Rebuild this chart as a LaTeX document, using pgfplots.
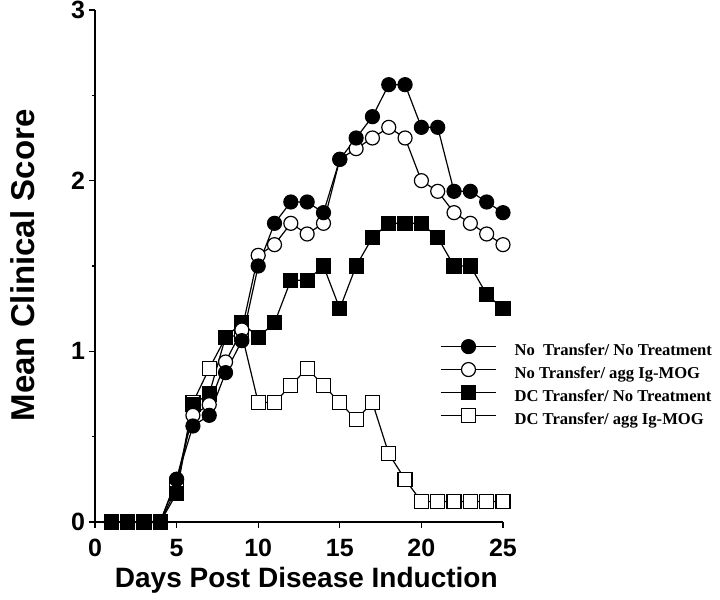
\documentclass[border=0pt]{standalone}
\usepackage{fontspec}
\setmainfont{Liberation Serif}
\newfontfamily\sansfont{Liberation Sans}
\usepackage{pgfplots}
\usepackage{pgfplotstable}
\pgfplotsset{compat=1.18}

\pgfplotstableread{
day ntnt ntagg dcnt dcagg
1 0 0 0 0
2 0 0 0 0
3 0 0 0 0
4 0 0 0 0
5 0.25 0.25 0.167 0.2
6 0.5625 0.625 0.69 0.7
7 0.625 0.6875 0.75 0.9
8 0.875 0.9375 1.083 1.08
9 1.0625 1.125 1.167 1.1
10 1.5 1.5625 1.083 0.7
11 1.75 1.625 1.167 0.7
12 1.875 1.75 1.417 0.8
13 1.875 1.6875 1.417 0.9
14 1.8125 1.75 1.5 0.8
15 2.125 2.125 1.25 0.7
16 2.25 2.1875 1.5 0.6
17 2.375 2.25 1.667 0.7
18 2.5625 2.3125 1.75 0.4
19 2.5625 2.25 1.75 0.25
20 2.3125 2.0 1.75 0.12
21 2.3125 1.9375 1.667 0.12
22 1.9375 1.8125 1.5 0.12
23 1.9375 1.75 1.5 0.12
24 1.875 1.6875 1.333 0.12
25 1.8125 1.625 1.25 0.12
}\datatable

\begin{document}
\begin{tikzpicture}
\useasboundingbox (-47.5pt,-39pt) rectangle (312.5pt,261pt);
\begin{axis}[
  at={(0pt,0pt)}, anchor=origin,
  scale only axis, width=204pt, height=256pt,
  xmin=0, xmax=25, ymin=0, ymax=3,
  axis x line*=bottom, axis y line*=left,
  axis line style={line width=0.9pt, -},
  xtick={0,5,10,15,20,25}, ytick={0,1,2,3}, minor ytick={0.5,1.5,2.5},
  tick align=outside, major tick length=3pt, minor tick length=1.5pt,
  tick style={black, line width=0.6pt},
  clip=false,
  /pgf/number format/assume math mode=true,
  ticklabel style={font=\sansfont\bfseries\fontsize{12.5}{14}\selectfont},
  xticklabel style={anchor=base, yshift=-14.5pt},
  yticklabel style={anchor=east, xshift=1.5pt},
  xlabel={Days Post Disease Induction},
  ylabel={Mean Clinical Score},
  xlabel style={at={(axis description cs:0.518,-0.128)}, anchor=base,
    font=\sansfont\bfseries\fontsize{14}{16}\selectfont},
  ylabel style={at={(axis description cs:-0.1777,0.501)}, anchor=center,
    font=\sansfont\bfseries\fontsize{16.5}{18}\selectfont},
  legend style={draw=none, fill=none, at={(axis description cs:0.8456,0.357)},
    anchor=north west, inner sep=0pt, row sep=0.8pt, column sep=8pt,
    nodes={inner sep=1pt},
    font=\rmfamily\bfseries\fontsize{8.3}{10}\selectfont},
  legend cell align=left,
  reverse legend,
  legend image code/.code={\draw[mark repeat=2, mark phase=2, yshift=2.5pt] plot coordinates {(0pt,0pt) (13.75pt,0pt) (27.5pt,0pt)};},
  every axis plot/.append style={black, line width=0.6pt, mark size=3.5pt},
]
\addplot[mark=square*, mark options={fill=white, draw=black}] table[x=day, y=dcagg] {\datatable};
\addlegendentry{DC Transfer/ agg Ig-MOG}
\addplot[mark=square*, mark options={fill=black, draw=black}] table[x=day, y=dcnt] {\datatable};
\addlegendentry{DC Transfer/ No Treatment}
\addplot[mark=*, mark options={fill=white, draw=black}] table[x=day, y=ntagg] {\datatable};
\addlegendentry{No Transfer/ agg Ig-MOG}
\addplot[mark=*, mark options={fill=black, draw=black}] table[x=day, y=ntnt] {\datatable};
\addlegendentry{No\ \ Transfer/ No Treatment}
\end{axis}
\end{tikzpicture}
\end{document}
